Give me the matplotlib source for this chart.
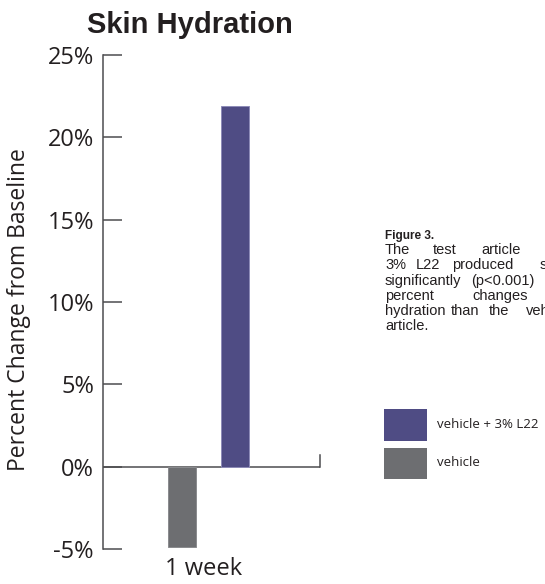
import matplotlib
matplotlib.use("Agg")
import matplotlib.pyplot as plt
from matplotlib.patches import Rectangle

# ---- data ----
groups = ["1 week"]
series_names = ["vehicle", "vehicle + 3% L22"]
vehicle = [-4.9]
vehicle_l22 = [21.9]
yticks = [-5, 0, 5, 10, 15, 20, 25]
ytick_labels = ["-5%", "0%", "5%", "10%", "15%", "20%", "25%"]
series_colors = ["#6d6e71", "#4f4c84"]
edge_colors = ["#8a8b8e", "#8e8cb8"]

W, H = 545, 584
fig = plt.figure(figsize=(W / 100, H / 100), dpi=100)
fig.patch.set_facecolor("white")

ax_left, ax_right = 103 / W, 320 / W
ax_bottom, ax_top = (H - 549) / H, (H - 55) / H
ax = fig.add_axes([ax_left, ax_bottom, ax_right - ax_left, ax_top - ax_bottom])

font = "Open Sans"
txtcol = "#231f20"
axcol = "#4d4d4f"

bw = 0.129
x0 = list(range(len(groups)))
ax.bar([x - 0.101 for x in x0], vehicle, width=bw, color=series_colors[0],
       edgecolor=edge_colors[0], linewidth=0.7, zorder=3)
ax.bar([x + 0.143 for x in x0], vehicle_l22, width=bw, color=series_colors[1],
       edgecolor=edge_colors[1], linewidth=0.7, zorder=3)

ax.set_xlim(-0.465, 0.535)
ax.set_ylim(-5, 25)

for s in ["top", "right", "bottom"]:
    ax.spines[s].set_visible(False)
ax.spines["left"].set_color(axcol)
ax.spines["left"].set_linewidth(1.1)

ax.axhline(0, color=axcol, linewidth=1.1, zorder=2)
ax.plot([1, 1], [0, 0.7], color=axcol, linewidth=1.1,
        transform=ax.get_yaxis_transform(), clip_on=False)

ax.set_yticks(yticks)
ax.set_yticklabels(ytick_labels, fontfamily=font, fontsize=17, color=txtcol)
ax.tick_params(axis="y", direction="in", length=14, width=1.1, color=axcol, pad=6.5)

ax.set_xticks(x0)
ax.set_xticklabels(groups, fontfamily=font, fontsize=17, color=txtcol)
ax.tick_params(axis="x", length=0, pad=6)

fig.text(19 / W, 1 - 310 / H, "Percent Change from Baseline", rotation=90,
         ha="center", va="center", fontfamily=font, fontsize=16.5, color=txtcol)

fig.text(190 / W, 1 - 33 / H, "Skin Hydration", ha="center", va="baseline",
         fontfamily="Liberation Sans", fontweight="bold", fontsize=21, color=txtcol)

# caption (justified text: words placed individually, cut by the right edge)
fig.text(385 / W, 1 - 239 / H, "Figure 3.", ha="left", va="baseline",
         fontfamily="Liberation Sans", fontweight="bold", fontsize=8.5, color=txtcol)
cap_words = [
    [("The", 385), ("test", 433), ("article", 481)],
    [("3%", 385), ("L22", 416), ("produced", 452), ("statistically", 540)],
    [("significantly", 385), ("(p<0.001)", 471)],
    [("percent", 385), ("changes", 472)],
    [("hydration", 385), ("than", 451), ("the", 489), ("vehicle", 526)],
    [("article.", 385)],
]
for i, words in enumerate(cap_words):
    yb = 254 + 15.3 * i
    for w, xw in words:
        fig.text(xw / W, 1 - yb / H, w, ha="left", va="baseline",
                 fontfamily="Liberation Sans", fontsize=10.5, color=txtcol)

# legend
leg = [(series_names[1], series_colors[1], 409, 441),
       (series_names[0], series_colors[0], 448, 479)]
for name, col, y1, y2 in leg:
    fig.patches.append(Rectangle((384 / W, 1 - y2 / H), 43 / W, (y2 - y1) / H,
                                 transform=fig.transFigure, facecolor=col,
                                 edgecolor="none"))
    fig.text(437 / W, 1 - ((y1 + y2) / 2 - 1) / H, name, ha="left", va="center",
             fontfamily=font, fontsize=9.5, color=txtcol)

fig.savefig("out.png", dpi=100)
